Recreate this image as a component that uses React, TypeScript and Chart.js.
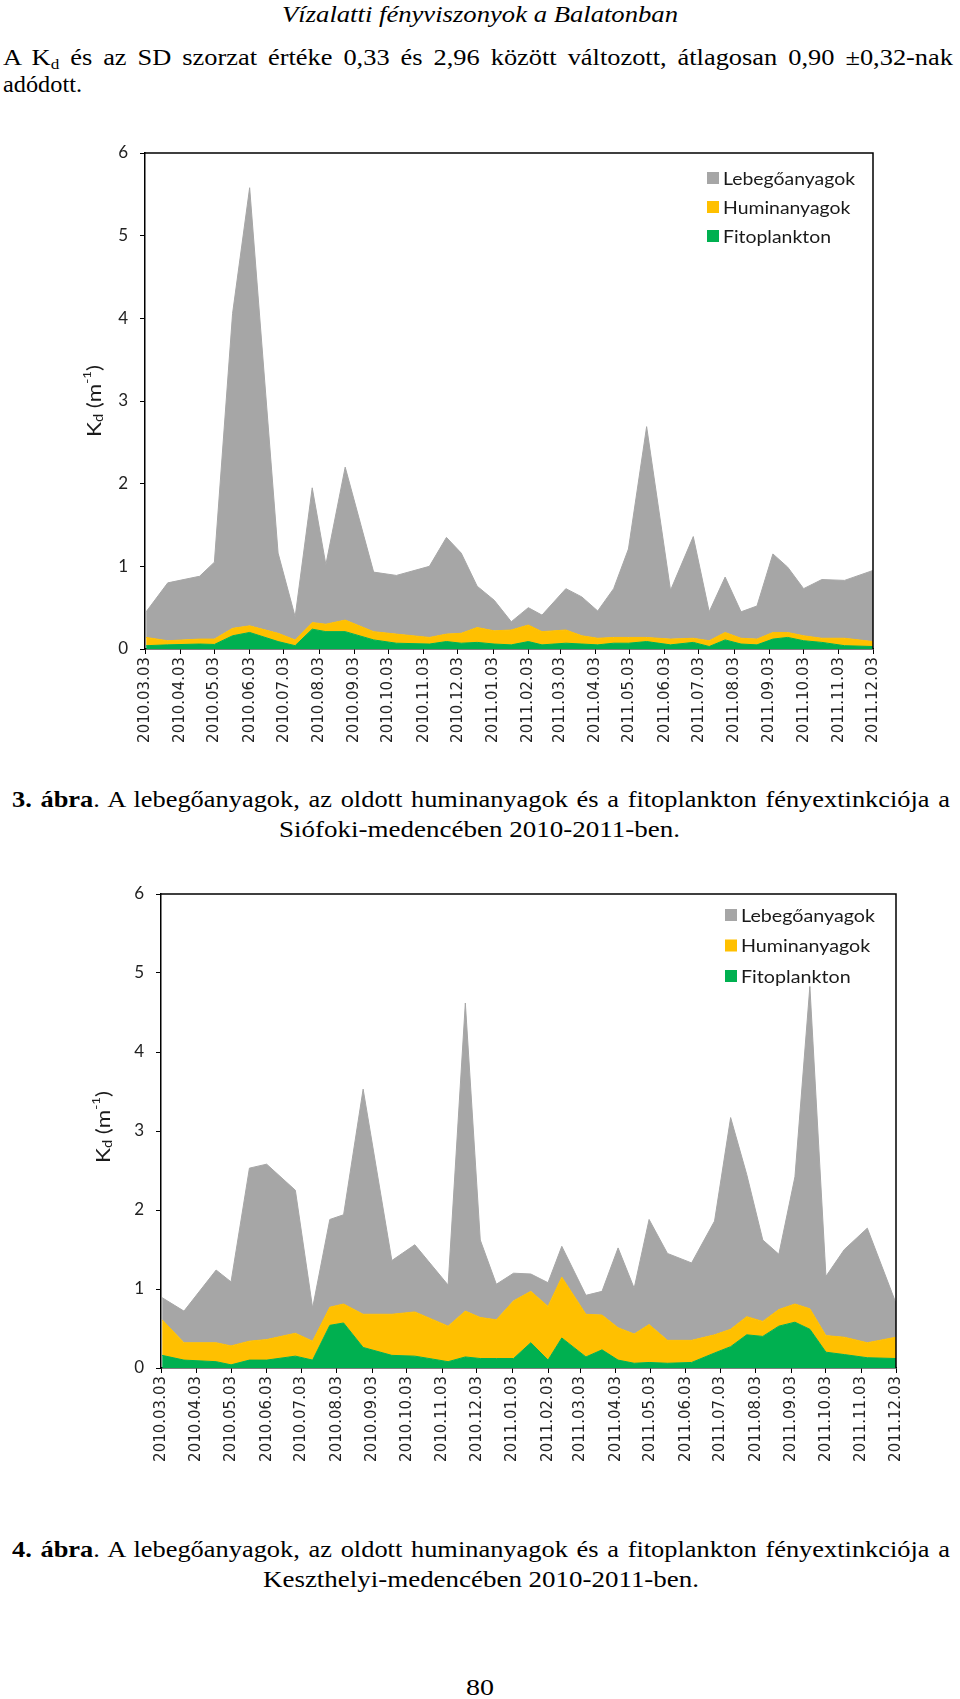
import React, { useEffect, useLayoutEffect, useRef, useState } from 'react';
import { Chart, registerables } from 'chart.js';

Chart.register(...registerables);

// ---------- data ----------
const tickLabels = [
  '2010.03.03', '2010.04.03', '2010.05.03', '2010.06.03', '2010.07.03', '2010.08.03',
  '2010.09.03', '2010.10.03', '2010.11.03', '2010.12.03', '2011.01.03', '2011.02.03',
  '2011.03.03', '2011.04.03', '2011.05.03', '2011.06.03', '2011.07.03', '2011.08.03',
  '2011.09.03', '2011.10.03', '2011.11.03', '2011.12.03',
];

const sampleDates = [
  '2010.03.04', '2010.03.23', '2010.04.20', '2010.05.03', '2010.05.19', '2010.06.03',
  '2010.06.28', '2010.07.13', '2010.07.28', '2010.08.09', '2010.08.26', '2010.09.20',
  '2010.10.10', '2010.11.08', '2010.11.23', '2010.12.06', '2010.12.20', '2011.01.04',
  '2011.01.19', '2011.02.03', '2011.02.15', '2011.03.08', '2011.03.22', '2011.04.05',
  '2011.04.19', '2011.05.02', '2011.05.18', '2011.06.08', '2011.06.28', '2011.07.12',
  '2011.07.26', '2011.08.09', '2011.08.23', '2011.09.06', '2011.09.19', '2011.10.03',
  '2011.10.19', '2011.11.08', '2011.12.03',
];

// Siófoki-medence
const siofokPhyto = [0.04, 0.05, 0.06, 0.055, 0.16, 0.2, 0.09, 0.04, 0.24, 0.21, 0.21, 0.11, 0.07, 0.06, 0.09, 0.07, 0.08, 0.06, 0.05, 0.09, 0.05, 0.07, 0.06, 0.05, 0.07, 0.07, 0.09, 0.05, 0.08, 0.03, 0.11, 0.06, 0.05, 0.12, 0.14, 0.1, 0.08, 0.04, 0.03];
const siofokHumic = [0.1, 0.05, 0.06, 0.065, 0.09, 0.08, 0.1, 0.07, 0.08, 0.09, 0.14, 0.1, 0.11, 0.08, 0.09, 0.12, 0.18, 0.16, 0.18, 0.2, 0.16, 0.16, 0.1, 0.08, 0.07, 0.07, 0.05, 0.07, 0.05, 0.07, 0.09, 0.07, 0.07, 0.08, 0.06, 0.06, 0.05, 0.09, 0.06];
const siofokSuspended = [0.31, 0.7, 0.76, 0.93, 3.81, 5.3, 0.97, 0.28, 1.63, 0.72, 1.85, 0.72, 0.71, 0.86, 1.17, 0.97, 0.5, 0.37, 0.1, 0.21, 0.2, 0.5, 0.47, 0.33, 0.59, 1.07, 2.55, 0.59, 1.23, 0.35, 0.67, 0.32, 0.4, 0.95, 0.79, 0.57, 0.71, 0.7, 0.86];

// Keszthelyi-medence
const keszthelyPhyto = [0.16, 0.1, 0.08, 0.04, 0.1, 0.1, 0.15, 0.1, 0.54, 0.57, 0.26, 0.16, 0.15, 0.08, 0.14, 0.12, 0.12, 0.12, 0.32, 0.1, 0.38, 0.14, 0.23, 0.1, 0.06, 0.07, 0.06, 0.07, 0.19, 0.27, 0.42, 0.4, 0.53, 0.58, 0.49, 0.2, 0.17, 0.13, 0.12];
const keszthelyHumic = [0.45, 0.22, 0.24, 0.24, 0.24, 0.26, 0.29, 0.24, 0.23, 0.24, 0.42, 0.52, 0.56, 0.45, 0.58, 0.52, 0.49, 0.73, 0.65, 0.68, 0.77, 0.54, 0.44, 0.41, 0.37, 0.48, 0.29, 0.28, 0.23, 0.22, 0.23, 0.19, 0.21, 0.23, 0.26, 0.21, 0.22, 0.19, 0.27];
const keszthelySuspended = [0.28, 0.4, 0.92, 0.81, 2.19, 2.22, 1.81, 0.42, 1.11, 1.13, 2.85, 0.68, 0.85, 0.52, 3.9, 0.98, 0.45, 0.35, 0.22, 0.3, 0.39, 0.24, 0.3, 1.01, 0.58, 1.33, 1.1, 0.98, 1.44, 2.68, 1.8, 1.03, 0.7, 1.61, 4.08, 0.75, 1.11, 1.45, 0.43];

const seriesNames = ['Fitoplankton', 'Huminanyagok', 'Lebegőanyagok'];
const seriesColors = ['#00B050', '#FFC000', '#A6A6A6'];
const yTicks = [0, 1, 2, 3, 4, 5, 6];

// ---------- helpers ----------
const dayOf = (s: string) => {
  const [y, m, d] = s.split('.').map(Number);
  const [y0, m0, d0] = tickLabels[0].split('.').map(Number);
  return Math.round((Date.UTC(y, m - 1, d) - Date.UTC(y0, m0 - 1, d0)) / 86400000);
};
const tickDays = tickLabels.map(dayOf);
const sampleDays = sampleDates.map(dayOf);

const decorPlugin = {
  id: 'decor',
  afterDraw(chart: any) {
    const o = chart.options.plugins.decor;
    if (!o) return;
    const { ctx, chartArea: a } = chart;
    ctx.save();
    // frame (top + right)
    ctx.strokeStyle = '#000';
    ctx.lineWidth = 1.5;
    ctx.beginPath();
    ctx.moveTo(a.left, a.top);
    ctx.lineTo(a.right, a.top);
    ctx.lineTo(a.right, a.bottom);
    ctx.stroke();

    // legend (reverse dataset order)
    const ds = chart.data.datasets.slice().reverse();
    ctx.font = `${o.legendSize}px Lato, "Open Sans", sans-serif`;
    const ref = ctx.measureText(ds[0].label).width;
    const sx = o.legendTextWidth / ref;
    ds.forEach((d: any, i: number) => {
      const cy = a.top + o.legendTop + i * o.legendGap;
      const bx = a.right - o.legendRight;
      ctx.fillStyle = d.backgroundColor;
      ctx.fillRect(bx, cy - o.box / 2, o.box, o.box);
      ctx.save();
      ctx.translate(bx + o.box + o.textGap, cy);
      ctx.scale(sx, 1);
      ctx.fillStyle = '#1a1a1a';
      ctx.textBaseline = 'middle';
      ctx.textAlign = 'left';
      ctx.fillText(d.label, 0, 1);
      ctx.restore();
    });

    // y-axis title Kd (m-1)
    const segs = [
      { t: 'K', s: 20, dy: 0 },
      { t: 'd', s: 13, dy: 4 },
      { t: ' (m', s: 20, dy: 0 },
      { t: '-1', s: 12, dy: -8 },
      { t: ')', s: 20, dy: 0 },
    ];
    let total = 0;
    segs.forEach((g) => {
      ctx.font = `${g.s}px Lato, "Open Sans", sans-serif`;
      total += ctx.measureText(g.t).width;
    });
    const tsx = o.titleWidth / total;
    ctx.translate(a.left - o.titleOffset, (a.top + a.bottom) / 2 + o.titleShift);
    ctx.rotate(-Math.PI / 2);
    ctx.scale(tsx, 1);
    ctx.fillStyle = '#1a1a1a';
    ctx.textBaseline = 'middle';
    ctx.textAlign = 'left';
    let x = -total / 2;
    segs.forEach((g) => {
      ctx.font = `${g.s}px Lato, "Open Sans", sans-serif`;
      ctx.fillText(g.t, x, g.dy);
      x += ctx.measureText(g.t).width;
    });
    ctx.restore();
  },
};

type ChartCfg = {
  top: number;
  height: number;
  yAxisWidth: number;
  padTop: number;
  padRight: number;
  xAxisHeight: number;
  legendTop: number;
  legendGap: number;
  legendRight: number;
  legendTextWidth: number;
  titleOffset: number;
  titleShift: number;
};

function StackChart({ cfg, series }: { cfg: ChartCfg; series: number[][] }) {
  const ref = useRef<HTMLCanvasElement>(null);
  useEffect(() => {
    if (!ref.current) return;
    const datasets = series.map((vals, i) => ({
      label: seriesNames[i],
      data: vals.map((v, k) => ({ x: sampleDays[k], y: v })),
      backgroundColor: seriesColors[i],
      borderColor: seriesColors[i],
      borderWidth: 1,
      pointRadius: 0,
      tension: 0,
      fill: i === 0 ? 'origin' : '-1',
    }));
    const chart = new Chart(ref.current, {
      type: 'line',
      data: { datasets },
      plugins: [decorPlugin],
      options: {
        animation: false,
        responsive: false,
        maintainAspectRatio: false,
        layout: { padding: { top: cfg.padTop, right: cfg.padRight, left: 0, bottom: 0 } },
        plugins: {
          legend: { display: false },
          tooltip: { enabled: false },
          decor: {
            legendSize: 18,
            legendTop: cfg.legendTop,
            legendGap: cfg.legendGap,
            legendRight: cfg.legendRight,
            legendTextWidth: cfg.legendTextWidth,
            box: 12,
            textGap: 4,
            titleOffset: cfg.titleOffset,
            titleShift: cfg.titleShift,
            titleWidth: 72,
          },
        } as any,
        scales: {
          x: {
            type: 'linear',
            min: tickDays[0],
            max: tickDays[tickDays.length - 1],
            afterBuildTicks: (s: any) => {
              s.ticks = tickDays.map((v) => ({ value: v }));
            },
            afterFit: (s: any) => {
              s.height = cfg.xAxisHeight;
            },
            ticks: {
              autoSkip: false,
              minRotation: 90,
              maxRotation: 90,
              padding: 3,
              color: '#222',
              font: { family: '"DejaVu Sans", Verdana, sans-serif', size: 15 },
              callback: (v: any) => {
                const i = tickDays.indexOf(Number(v));
                return i >= 0 ? tickLabels[i] : '';
              },
            },
            grid: { drawOnChartArea: false, drawTicks: true, tickLength: 5, color: '#000', lineWidth: 1 },
            border: { display: true, color: '#000', width: 1.5 },
          },
          y: {
            stacked: true,
            min: 0,
            max: 6,
            afterBuildTicks: (s: any) => {
              s.ticks = yTicks.map((v) => ({ value: v }));
            },
            afterFit: (s: any) => {
              s.width = cfg.yAxisWidth;
            },
            ticks: {
              padding: 12,
              color: '#222',
              font: { family: 'Lato, "Open Sans", sans-serif', size: 17 },
            },
            grid: { drawOnChartArea: false, drawTicks: true, tickLength: 5, color: '#000', lineWidth: 1 },
            border: { display: true, color: '#000', width: 1.5 },
          },
        },
      } as any,
    });
    return () => chart.destroy();
  }, []);
  return (
    <canvas
      ref={ref}
      width={960}
      height={cfg.height}
      style={{ position: 'absolute', left: 0, top: cfg.top, width: 960, height: cfg.height }}
    />
  );
}

const TEXT_STRETCH = 1.1;

function FitText({
  left,
  baseline,
  width,
  size = 24,
  italic = false,
  justify = false,
  children,
}: {
  left: number;
  baseline: number;
  width: number;
  size?: number;
  italic?: boolean;
  justify?: boolean;
  children: React.ReactNode;
}) {
  const ref = useRef<HTMLSpanElement>(null);
  const [tick, setTick] = useState(0);
  useEffect(() => {
    (document as any).fonts?.ready?.then(() => setTick((t) => t + 1));
  }, []);
  useLayoutEffect(() => {
    const el = ref.current;
    if (!el) return;
    el.style.transform = 'none';
    el.style.wordSpacing = '0px';
    const w = el.getBoundingClientRect().width;
    if (justify) {
      const spaces = ((el.textContent || '').match(/ /g) || []).length;
      const extra = width / TEXT_STRETCH - w;
      if (extra > 0 && spaces > 0) {
        el.style.wordSpacing = `${extra / spaces}px`;
        const w2 = el.getBoundingClientRect().width;
        el.style.transform = `scaleX(${width / w2})`;
        return;
      }
    }
    if (w > 0) el.style.transform = `scaleX(${width / w})`;
  }, [tick, width, justify]);
  return (
    <span
      ref={ref}
      style={{
        position: 'absolute',
        left,
        top: baseline - 0.8375 * size,
        fontSize: size,
        lineHeight: `${size}px`,
        whiteSpace: 'nowrap',
        fontFamily: '"Liberation Serif", "Times New Roman", Times, serif',
        fontStyle: italic ? 'italic' : 'normal',
        transformOrigin: '0 0',
        color: '#000',
      }}
    >
      {children}
    </span>
  );
}

const chart1: ChartCfg = {
  top: 120,
  height: 660,
  yAxisWidth: 145,
  padTop: 33,
  padRight: 87,
  xAxisHeight: 131,
  legendTop: 25,
  legendGap: 29,
  legendRight: 166,
  legendTextWidth: 132,
  titleOffset: 50,
  titleShift: 0,
};

const chart2: ChartCfg = {
  top: 860,
  height: 620,
  yAxisWidth: 161,
  padTop: 34,
  padRight: 64,
  xAxisHeight: 112,
  legendTop: 21,
  legendGap: 30.5,
  legendRight: 171,
  legendTextWidth: 134,
  titleOffset: 57,
  titleShift: -4,
};

export default function App() {
  return (
    <div
      style={{
        position: 'absolute',
        left: 0,
        top: 0,
        width: 960,
        height: 1699,
        background: '#fff',
        overflow: 'hidden',
      }}
    >
      <FitText left={282} baseline={22} width={396} size={24} italic>
        Vízalatti fényviszonyok a Balatonban
      </FitText>
      <FitText left={3} baseline={65} width={950} size={24} justify>
        A K<sub style={{ fontSize: '0.65em', verticalAlign: '-0.25em', lineHeight: 0 }}>d</sub> és az SD szorzat értéke
        0,33 és 2,96 között változott, átlagosan 0,90 ±0,32-nak
      </FitText>
      <FitText left={3} baseline={92} width={79} size={24}>
        adódott.
      </FitText>

      <StackChart cfg={chart1} series={[siofokPhyto, siofokHumic, siofokSuspended]} />

      <FitText left={12} baseline={807} width={938} size={24} justify>
        <b>3. ábra</b>. A lebegőanyagok, az oldott huminanyagok és a fitoplankton fényextinkciója a
      </FitText>
      <FitText left={279} baseline={837} width={401} size={24}>
        Siófoki-medencében 2010-2011-ben.
      </FitText>

      <StackChart cfg={chart2} series={[keszthelyPhyto, keszthelyHumic, keszthelySuspended]} />

      <FitText left={12} baseline={1557} width={938} size={24} justify>
        <b>4. ábra</b>. A lebegőanyagok, az oldott huminanyagok és a fitoplankton fényextinkciója a
      </FitText>
      <FitText left={263} baseline={1587} width={436} size={24}>
        Keszthelyi-medencében 2010-2011-ben.
      </FitText>

      <FitText left={466} baseline={1695} width={28} size={24}>
        80
      </FitText>
    </div>
  );
}
